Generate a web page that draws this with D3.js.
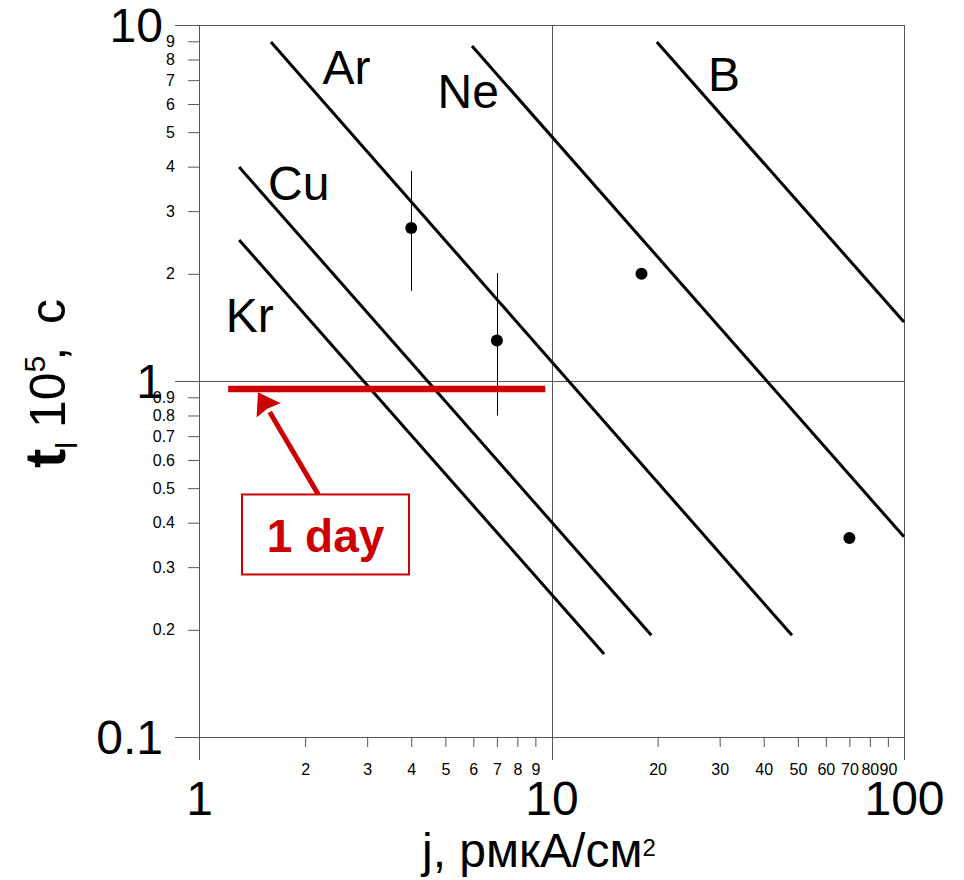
<!DOCTYPE html>
<html>
<head>
<meta charset="utf-8">
<script src="https://cdn.jsdelivr.net/npm/d3@7"></script>
<style>
    body { margin: 0; background: #fff; }
    svg { font-family: "Liberation Sans", Arial, sans-serif; }
    .axis path { display: none; }
    .axis line { stroke: #555; }
</style>
</head>
<body>
<div id="plot"></div>
<script>
let svgWidth = 964;
let svgHeight = 880;

// axis ticks
let majorX = [1, 10, 100];
let minorX = [2, 3, 4, 5, 6, 7, 8, 9, 20, 30, 40, 50, 60, 70, 80, 90];
let majorY = [0.1, 1, 10];
let minorY = [0.2, 0.3, 0.4, 0.5, 0.6, 0.7, 0.8, 0.9, 2, 3, 4, 5, 6, 7, 8, 9];

// lines: name, start (j, t), end (j, t)
let lineNames = ['Ar', 'Ne', 'B', 'Cu', 'Kr'];
let lineStart = [[1.60, 8.96], [5.95, 8.73], [19.9, 8.96], [1.30, 3.99], [1.30, 2.49]];
let lineEnd = [[48.1, 0.193], [100, 0.365], [100, 1.465], [19.2, 0.193], [14.1, 0.171]];
// label anchors (j, t) for each line
let labelAt = [[2.24, 6.83], [4.75, 5.85], [27.8, 6.53], [1.57, 3.22], [1.19, 1.37]];

// measured points with error bars
let pointJ = [4, 7, 18, 70];
let pointT = [2.69, 1.30, 2.0, 0.362];
let errLow = [1.79, 0.80, null, null];
let errHigh = [3.89, 2.01, null, null];

// "1 day" level
let dayT = 0.95;
let dayJ = [1.21, 9.6];
let arrowTip = [1.47, 0.93];
let arrowTail = [2.18, 0.48];
let boxTop = [2.285, 0.48];

let $svg = d3.select('#plot')
    .append('svg')
    .attr('width', svgWidth)
    .attr('height', svgHeight);

let x = d3.scaleLog().domain([1, 100]).range([199, 904]);
let y = d3.scaleLog().domain([0.1, 10]).range([737, 25]);

let red = '#cc0000';

// grid / frame lines at major values
$svg.selectAll('.gridY')
    .data(majorY)
    .enter()
    .append('line')
    .attr('x1', 175)
    .attr('x2', x(100))
    .attr('y1', d => Math.round(y(d)) + 0.5)
    .attr('y2', d => Math.round(y(d)) + 0.5)
    .attr('stroke', '#555')
    .attr('stroke-width', 1);

$svg.selectAll('.gridX')
    .data(majorX)
    .enter()
    .append('line')
    .attr('x1', d => Math.round(x(d)) + 0.5)
    .attr('x2', d => Math.round(x(d)) + 0.5)
    .attr('y1', y(10))
    .attr('y2', 760)
    .attr('stroke', '#555')
    .attr('stroke-width', 1);

// x axis minor ticks
let xMinorAxis = d3.axisBottom(x)
    .tickValues(minorX)
    .tickSize(10)
    .tickPadding(17)
    .tickFormat(d3.format('d'));

$svg.append('g')
    .attr('class', 'axis')
    .attr('transform', `translate(0, ${y(0.1)})`)
    .call(xMinorAxis)
    .selectAll('text')
    .attr('font-size', 16)
    .attr('font-family', null)
    .attr('fill', '#000');

let xMajorAxis = d3.axisBottom(x)
    .tickValues(majorX)
    .tickSize(0)
    .tickPadding(44)
    .tickFormat(d3.format('d'));

$svg.append('g')
    .attr('class', 'axis')
    .attr('transform', `translate(0, ${y(0.1)})`)
    .call(xMajorAxis)
    .selectAll('text')
    .attr('font-size', 48)
    .attr('font-family', null)
    .attr('fill', '#000');

// y axis minor ticks
let yMinorAxis = d3.axisLeft(y)
    .tickValues(minorY)
    .tickSize(11)
    .tickPadding(13)
    .tickFormat(d => d < 1 ? d.toFixed(1) : d);

$svg.append('g')
    .attr('class', 'axis')
    .attr('transform', `translate(${x(1)}, 0)`)
    .call(yMinorAxis)
    .selectAll('text')
    .attr('font-size', 16)
    .attr('font-family', null)
    .attr('fill', '#000');

let yMajorAxis = d3.axisLeft(y)
    .tickValues(majorY)
    .tickSize(0)
    .tickPadding(36)
    .tickFormat(d => d < 1 ? d.toFixed(1) : d);

$svg.append('g')
    .attr('class', 'axis')
    .attr('transform', `translate(${x(1)}, 0)`)
    .call(yMajorAxis)
    .selectAll('text')
    .attr('font-size', 48)
    .attr('font-family', null)
    .attr('dy', '0.34em')
    .attr('fill', '#000');

// axis titles
$svg.append('text')
    .attr('x', 422)
    .attr('y', 867)
    .attr('font-size', 48)
    .text('j, рмкА/см')
    .append('tspan')
    .attr('font-size', 24)
    .attr('dy', -11)
    .text('2');

let yTitle = $svg.append('text')
    .attr('transform', 'translate(65, 468) rotate(-90)')
    .attr('font-size', 50);
yTitle.append('tspan').attr('font-weight', 'bold').attr('font-size', 58).text('t');
yTitle.append('tspan').attr('font-size', 30).attr('dy', 12).text('l');
yTitle.append('tspan').attr('dy', -12).text(' 10');
yTitle.append('tspan').attr('font-size', 30).attr('dy', -20).text('5');
yTitle.append('tspan').attr('dy', 20).attr('dx', -5).text(',');
yTitle.append('tspan').attr('dx', 9).text(' c');

// theory lines
let lineData = lineNames.map((name, i) => ({ name, start: lineStart[i], end: lineEnd[i], label: labelAt[i] }));

$svg.selectAll('.theory')
    .data(lineData)
    .enter()
    .append('line')
    .attr('x1', d => x(d.start[0]))
    .attr('y1', d => y(d.start[1]))
    .attr('x2', d => x(d.end[0]))
    .attr('y2', d => y(d.end[1]))
    .attr('stroke', '#000')
    .attr('stroke-width', 3);

$svg.selectAll('.lineLabel')
    .data(lineData)
    .enter()
    .append('text')
    .attr('x', d => x(d.label[0]))
    .attr('y', d => y(d.label[1]))
    .attr('font-size', 48)
    .text(d => d.name);

// error bars
let pointData = pointJ.map((j, i) => ({ j, t: pointT[i], lo: errLow[i], hi: errHigh[i] }));

$svg.selectAll('.errBar')
    .data(pointData.filter(d => d.lo !== null))
    .enter()
    .append('line')
    .attr('x1', d => Math.round(x(d.j)) + 0.5)
    .attr('x2', d => Math.round(x(d.j)) + 0.5)
    .attr('y1', d => y(d.hi))
    .attr('y2', d => y(d.lo))
    .attr('stroke', '#000')
    .attr('stroke-width', 1);

// red 1 day level
$svg.append('line')
    .attr('x1', x(dayJ[0]))
    .attr('x2', x(dayJ[1]))
    .attr('y1', y(dayT))
    .attr('y2', y(dayT))
    .attr('stroke', red)
    .attr('stroke-width', 6.5);

$svg.selectAll('circle')
    .data(pointData)
    .enter()
    .append('circle')
    .attr('cx', d => x(d.j))
    .attr('cy', d => y(d.t))
    .attr('r', 6)
    .attr('fill', '#000');

// arrow
let tip = [x(arrowTip[0]), y(arrowTip[1])];
let tail = [x(arrowTail[0]), y(arrowTail[1])];
let dx = tip[0] - tail[0], dy = tip[1] - tail[1];
let len = Math.sqrt(dx * dx + dy * dy);
let ux = dx / len, uy = dy / len;
let headLen = 27, headHalf = 14;
let base = [tip[0] - ux * headLen, tip[1] - uy * headLen];

$svg.append('line')
    .attr('x1', tail[0])
    .attr('y1', tail[1])
    .attr('x2', base[0] + ux * 4)
    .attr('y2', base[1] + uy * 4)
    .attr('stroke', red)
    .attr('stroke-width', 5);

$svg.append('polygon')
    .attr('points', [
        tip,
        [base[0] - uy * headHalf + ux * 6, base[1] + ux * headHalf + uy * 6],
        [base[0] + ux * 8, base[1] + uy * 8],
        [base[0] + uy * headHalf + ux * 6, base[1] - ux * headHalf + uy * 6]
    ].map(p => p.join(',')).join(' '))
    .attr('fill', red);

// label box
let boxW = 167, boxH = 80;
let bx = x(boxTop[0]), by = y(boxTop[1]);

$svg.append('rect')
    .attr('x', bx - boxW / 2)
    .attr('y', by)
    .attr('width', boxW)
    .attr('height', boxH)
    .attr('fill', '#fff')
    .attr('stroke', red)
    .attr('stroke-width', 2);

$svg.append('text')
    .attr('x', bx)
    .attr('y', by + 58)
    .attr('text-anchor', 'middle')
    .attr('font-size', 46)
    .attr('font-weight', 'bold')
    .attr('fill', red)
    .text('1 day');
</script>
</body>
</html>
